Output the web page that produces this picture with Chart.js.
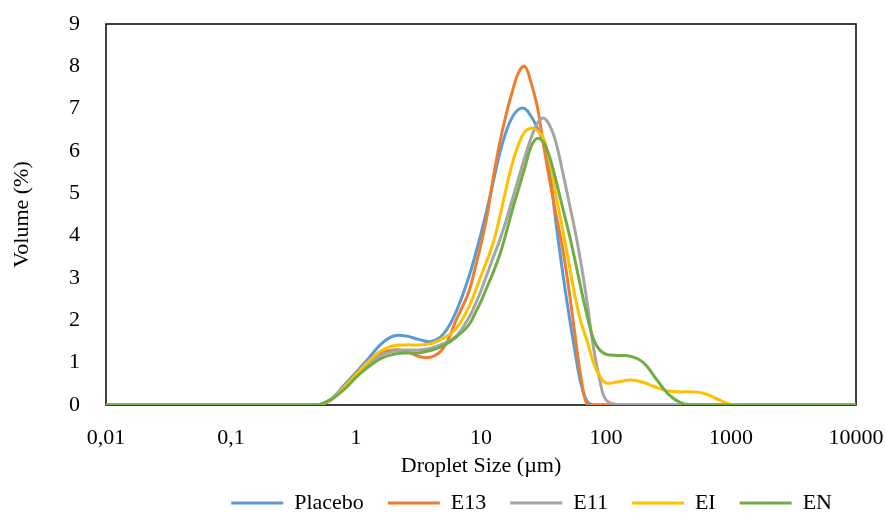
<!DOCTYPE html>
<html>
<head>
<meta charset="utf-8">
<script src="https://cdn.jsdelivr.net/npm/chart.js@4.4.0/dist/chart.umd.min.js"></script>
<style>
html, body { margin: 0; padding: 0; background: #fff; }
</style>
</head>
<body>
<canvas id="chart" width="886" height="513"></canvas>
<script>
// droplet size classes (um), finer round the main peak
var sizes = [0.01, 0.398, 0.501, 0.631, 0.794, 1, 1.259, 1.585, 1.995, 2.512, 3.162, 3.981, 5.012, 6.31,
    7.943, 8.913, 10, 11.22, 12.59, 14.13, 15.85, 17.78, 19.95, 22.39, 25.12, 28.18, 31.62, 35.48,
    39.81, 44.67, 50.12, 56.23, 63.1, 70.79, 79.43, 89.13, 100,
    125.9, 158.5, 199.5, 251.2, 316.2, 398.1, 501.2, 631, 794.3, 1000, 10000];

var placebo = [0, 0, 0, 0.14, 0.45, 0.77, 1.1, 1.44, 1.63, 1.63, 1.55, 1.5, 1.68, 2.2,
    3.0, 3.5, 4.05, 4.65, 5.3, 5.95, 6.45, 6.8, 6.98, 7.0, 6.82, 6.55, 6.2, 5.5,
    4.3, 3.2, 2.2, 1.3, 0.5, 0.08, 0, 0, 0,
    0, 0, 0, 0, 0, 0, 0, 0, 0, 0, 0];
var e13 = [0, 0, 0, 0.12, 0.4, 0.7, 1.0, 1.22, 1.3, 1.27, 1.15, 1.13, 1.35, 2.0,
    2.65, 3.2, 3.8, 4.5, 5.4, 6.2, 6.85, 7.4, 7.85, 8.0, 7.62, 7.05, 6.15, 5.3,
    4.5, 3.75, 2.8, 1.7, 0.65, 0, 0, 0, 0,
    0, 0, 0, 0, 0, 0, 0, 0, 0, 0, 0];
var e11 = [0, 0, 0, 0.12, 0.4, 0.7, 0.98, 1.18, 1.27, 1.3, 1.3, 1.34, 1.45, 1.62,
    2.05, 2.35, 2.7, 3.1, 3.5, 3.9, 4.35, 4.85, 5.35, 5.85, 6.3, 6.65, 6.78, 6.6,
    6.2, 5.55, 4.85, 4.15, 3.35, 2.4, 1.35, 0.6, 0.12,
    0, 0, 0, 0, 0, 0, 0, 0, 0, 0, 0];
var ei = [0, 0, 0, 0.13, 0.4, 0.72, 1.03, 1.28, 1.4, 1.42, 1.42, 1.45, 1.58, 1.8,
    2.3, 2.65, 3.05, 3.43, 3.85, 4.45, 5.1, 5.7, 6.15, 6.45, 6.54, 6.48, 6.3, 5.75,
    4.95, 4.2, 3.4, 2.6, 1.95, 1.5, 1.0, 0.68, 0.52,
    0.55, 0.59, 0.53, 0.42, 0.33, 0.31, 0.31, 0.26, 0.13, 0.02, 0];
var en = [0, 0, 0, 0.13, 0.35, 0.65, 0.9, 1.1, 1.2, 1.23, 1.23, 1.29, 1.4, 1.6,
    1.88, 2.15, 2.45, 2.8, 3.15, 3.55, 4.05, 4.6, 5.1, 5.6, 6.1, 6.3, 6.2, 5.85,
    5.3, 4.7, 4.1, 3.45, 2.75, 2.1, 1.55, 1.3, 1.2,
    1.17, 1.15, 1.0, 0.62, 0.25, 0.05, 0, 0, 0, 0, 0];

var seriesNames = ["Placebo", "E13", "E11", "EI", "EN"];
var seriesColors = ["#5B9BD5", "#ED7D31", "#A5A5A5", "#FFC000", "#70AD47"];
var seriesValues = [placebo, e13, e11, ei, en];

var xTickValues = [0.01, 0.1, 1, 10, 100, 1000, 10000];
var xTickLabels = ["0,01", "0,1", "1", "10", "100", "1000", "10000"];

var font = "'Liberation Serif', 'Times New Roman', serif";
Chart.defaults.font.family = font;
Chart.defaults.color = "#000";

function toPoints(vals)
{
    var pts = [];
    for (var i = 0; i < sizes.length; i++) {
        pts.push({x: sizes[i], y: vals[i]});
    }
    return pts;
}

var datasets = [];
for (var i = 0; i < seriesNames.length; i++) {
    datasets.push({
        label: seriesNames[i],
        data: toPoints(seriesValues[i]),
        borderColor: seriesColors[i],
        backgroundColor: seriesColors[i],
        borderWidth: 3,
        pointRadius: 0,
        fill: false,
        tension: 0.4,
        order: seriesNames.length - i
    });
}

// black frame round the plot area, under the lines
var boxPlugin = {
    id: 'box',
    beforeDatasetsDraw: function(chart) {
        var a = chart.chartArea;
        var c = chart.ctx;
        c.save();
        c.strokeStyle = "#000";
        c.lineWidth = 1.5;
        c.strokeRect(a.left, a.top, a.right - a.left, a.bottom - a.top);
        c.restore();
    }
};

var ctx = document.getElementById("chart");
var myChart = new Chart(ctx, {
    type: 'line',
    data: { datasets: datasets },
    plugins: [boxPlugin],
    options: {
        responsive: false,
        animation: false,
        layout: { padding: { left: 0, right: 30, top: 24, bottom: -11 } },
        plugins: {
            tooltip: { enabled: false },
            legend: {
                position: 'bottom',
                align: 'end',
                labels: {
                    font: { size: 22 },
                    color: "#000",
                    usePointStyle: true,
                    pointStyle: 'line',
                    pointStyleWidth: 52,
                    padding: 24,
                    sort: function(a, b) { return a.datasetIndex - b.datasetIndex; }
                }
            }
        },
        scales: {
            x: {
                type: 'logarithmic',
                min: 0.01,
                max: 10000,
                afterBuildTicks: function(scale) {
                    scale.ticks = xTickValues.map(function(v) { return {value: v}; });
                },
                afterFit: function(scale) {
                    scale.height = 63;
                    scale.paddingLeft = 0;
                    scale.paddingRight = 0;
                },
                grid: { display: false, drawTicks: false },
                border: { display: false },
                ticks: {
                    autoSkip: false,
                    maxRotation: 0,
                    padding: 20,
                    font: { size: 22 },
                    callback: function(value) {
                        var k = xTickValues.indexOf(value);
                        return k >= 0 ? xTickLabels[k] : '';
                    }
                },
                title: {
                    display: true,
                    text: "Droplet Size (\u00b5m)",
                    font: { size: 22 },
                    padding: { top: 0, bottom: -11 }
                }
            },
            y: {
                min: 0,
                max: 9,
                afterFit: function(scale) {
                    scale.width = 106;
                    scale.paddingTop = 0;
                    scale.paddingBottom = 0;
                },
                grid: { display: false, drawTicks: false },
                border: { display: false },
                ticks: { stepSize: 1, padding: 26, font: { size: 22 } },
                title: {
                    display: true,
                    text: "Volume (%)",
                    font: { size: 22 },
                    padding: { top: 9, bottom: 0 }
                }
            }
        }
    }
});
</script>
</body>
</html>
